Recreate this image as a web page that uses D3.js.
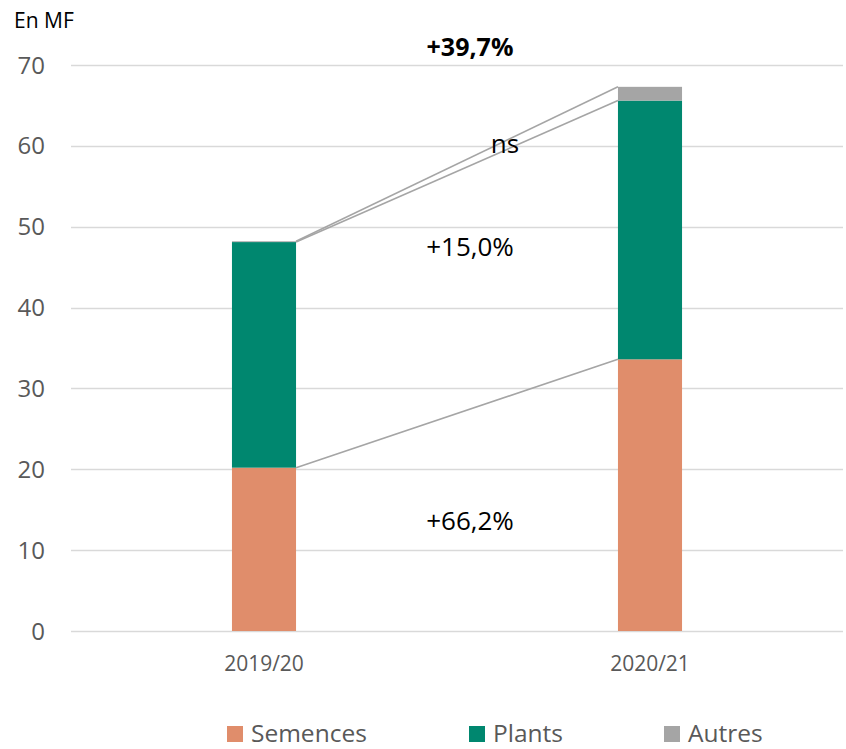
<!DOCTYPE html>
<html><head><meta charset="utf-8">
<script src="https://cdn.jsdelivr.net/npm/d3@7"></script>
<style>body{margin:0;background:#fff}svg{display:block;font-family:"Open Sans",sans-serif}</style>
</head><body><svg id="c" width="846" height="749"></svg>
<script>
const categories = ["2019/20", "2020/21"];
const seriesNames = ["Semences", "Plants", "Autres"];
const semences = [20.2, 33.6];
const plants = [27.9, 32.0];
const autres = [0.1, 1.7];
const yTicks = [0, 10, 20, 30, 40, 50, 60, 70];
const changeLabels = ["+66,2%", "+15,0%", "ns", "+39,7%"];
const colors = ["#E08D6B", "#00876F", "#A5A5A5"];

const svg = d3.select("#c");
const x = d3.scaleBand().domain(categories).range([71, 843]).paddingInner(0.834).paddingOuter(0.417);
const y = d3.scaleLinear().domain([0, 70]).range([631, 65]);

const rows = categories.map((c, i) => ({cat: c, Semences: semences[i], Plants: plants[i], Autres: autres[i]}));
const stack = d3.stack().keys(seriesNames)(rows);

// gridlines
svg.append("g").selectAll("line").data(yTicks).join("line")
  .attr("x1", 71).attr("x2", 843)
  .attr("y1", d => Math.round(y(d)) + 0.5).attr("y2", d => Math.round(y(d)) + 0.5)
  .attr("stroke", "#d9d9d9").attr("stroke-width", 1.3);

// y axis labels
svg.append("g").selectAll("text").data(yTicks).join("text")
  .attr("x", 45).attr("y", d => y(d)).attr("dy", "0.36em")
  .attr("text-anchor", "end").attr("font-size", 24).attr("fill", "#595959")
  .text(d => d);

svg.append("text").attr("x", 14).attr("y", 28).attr("font-size", 21).attr("fill", "#000").text("En MF");

// bars
stack.forEach((s, si) => {
  svg.append("g").selectAll("rect").data(s).join("rect")
    .attr("x", d => x(d.data.cat)).attr("width", x.bandwidth())
    .attr("y", d => y(d[1])).attr("height", d => y(d[0]) - y(d[1]))
    .attr("fill", colors[si]);
});

// connector lines
stack.forEach((s) => {
  svg.append("line")
    .attr("x1", x(categories[0]) + x.bandwidth()).attr("y1", y(s[0][1]))
    .attr("x2", x(categories[1])).attr("y2", y(s[1][1]))
    .attr("stroke", "#A5A5A5").attr("stroke-width", 1.6);
});

// x labels
svg.append("g").selectAll("text").data(categories).join("text")
  .attr("x", d => x(d) + x.bandwidth() / 2).attr("y", 671)
  .attr("text-anchor", "middle").attr("font-size", 21).attr("fill", "#595959")
  .text(d => d);

// change labels
const mid = 470;
svg.append("text").attr("x", mid).attr("y", 530).attr("text-anchor", "middle").attr("font-size", 26).text(changeLabels[0]);
svg.append("text").attr("x", mid).attr("y", 256).attr("text-anchor", "middle").attr("font-size", 26).text(changeLabels[1]);
svg.append("text").attr("x", 505).attr("y", 153).attr("text-anchor", "middle").attr("font-size", 26).text(changeLabels[2]);
svg.append("text").attr("x", mid).attr("y", 56).attr("text-anchor", "middle").attr("font-size", 25).attr("font-weight", "bold").text(changeLabels[3]);

// legend
const legX = [227, 469, 664];
const leg = svg.append("g").selectAll("g").data(seriesNames).join("g")
  .attr("transform", (d, i) => `translate(${legX[i]},726)`);
leg.append("rect").attr("width", 16).attr("height", 16).attr("fill", (d, i) => colors[i]);
leg.append("text").attr("x", 24).attr("y", 16).attr("font-size", 24.5).attr("fill", "#595959").text(d => d);
</script></body></html>
